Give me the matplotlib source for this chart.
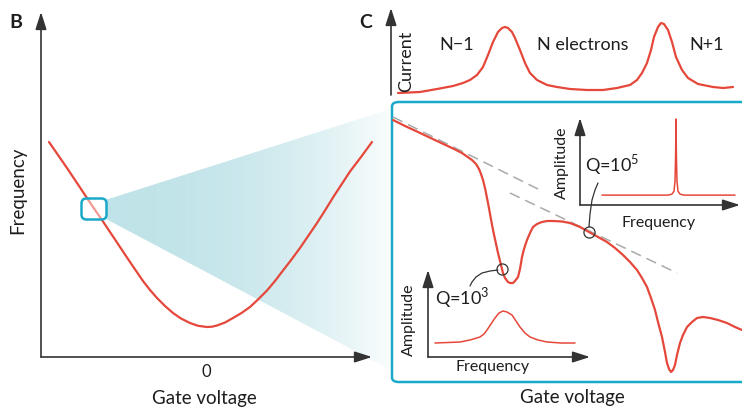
import matplotlib.pyplot as plt
from matplotlib.patches import FancyBboxPatch

plt.rcParams['font.family'] = ['Lato', 'DejaVu Sans']
plt.rcParams['mathtext.fontset'] = 'custom'
plt.rcParams['mathtext.rm'] = 'Lato'

RED = '#e5483b'
CYAN = '#1ba9c9'
DARK = '#333333'
TXT = '#1e1e1e'
W, H = 742, 409

# panel B: frequency vs gate voltage (arbitrary units)
b_volt = [-157, -139, -123, -113, -103, -89, -76, -63, -56, -49, -41, -33, -25, -16, -8,
          1, 6, 11, 19, 27, 35.5, 44, 52, 61, 69, 77, 85.5, 94, 102.5, 111, 119, 127,
          135.5, 144, 155, 166]
b_freq = [215, 189, 165, 150, 135.5, 114.5, 95, 76, 67, 59, 51, 44, 38.5, 34, 31.2,
          30, 30.3, 31.5, 34.5, 39, 44, 50, 57.5, 66.5, 76, 86.5, 97.5, 109, 121.5, 134, 146.5, 159.5,
          172.5, 185.5, 200, 215]

# panel C top: current vs gate voltage
cur_volt = [7, 29, 46, 62, 72, 79, 86, 92, 97, 102, 107, 111, 114, 117, 121, 124, 129,
            134, 139, 146, 156, 166, 179, 196, 212, 226, 239, 246, 251, 256, 260, 263,
            267, 270, 273, 277, 281, 285, 291, 297, 307, 322, 332, 342]
cur_val = [2, 3, 6, 9, 12, 15, 20, 28, 40, 53, 63, 67, 68, 67, 63, 57, 45,
           32, 22, 15, 10, 8, 6, 5, 5, 7, 10, 15, 22, 32, 45, 58,
           68, 72, 71, 65, 53, 38, 25, 17, 11, 8, 7, 8]
cur_labels = ['N\u22121', 'N electrons', 'N+1']
cur_label_x = [66, 192, 316]

# panel C main: frequency vs gate voltage
c_volt = [1, 13, 26, 45, 60, 70, 80, 84, 87, 89, 91, 93, 96, 101, 106, 109, 111, 113,
          116, 118, 121, 123, 126, 128, 130, 132, 135, 138, 141, 145, 150, 155, 161,
          170, 178, 188, 197, 206, 215, 223, 231, 238, 245, 250, 255, 259, 263, 266,
          270, 273, 275, 277, 279, 281, 283, 285, 288, 291, 295, 300, 305, 311, 318,
          326, 335, 343, 350]
c_freq = [262, 256, 250, 241, 234, 229, 222, 218, 213, 208, 202, 194, 179, 152, 129, 117,
          109, 104, 100, 99, 99, 101, 105, 113, 125, 133, 142, 149, 155, 158, 160, 161,
          161, 160.5, 159, 155, 150, 145, 140, 134, 127, 120, 112, 104, 95, 84, 72, 60,
          45, 30, 19, 13, 10, 12, 17, 27, 39, 47, 55, 60, 64, 65, 64,
          62, 59, 55, 52]
dash1_volt, dash1_freq = [1, 148], [265, 192]
dash2_volt, dash2_freq = [118, 285], [189, 109]
mark_volt, mark_freq = [110, 197], [113, 150]
lead1_volt = [106, 98, 90, 84, 80, 78]
lead1_freq = [112, 111, 109, 105, 100, 96]
lead2_volt = [197, 198, 200, 203, 206]
lead2_freq = [155, 168, 182, 192, 199]

# insets: amplitude vs frequency
hiq_f = [22, 88, 92, 94, 95, 95.6, 96, 96.4, 97, 98, 100, 104, 155]
hiq_a = [10, 10, 11, 14, 24, 50, 87, 50, 24, 14, 11, 10, 10]
loq_f = [7, 20, 32, 42, 52, 56, 59, 63, 67, 71, 75, 79, 84, 88, 92, 97, 102, 110,
         119, 133, 147]
loq_a = [14, 14.5, 15, 17, 20, 23, 27, 33, 39, 44, 46, 45, 42, 36, 30, 24, 20, 17,
         15, 14, 14]


def box(l, t, r, b):
    return [l / W, 1 - b / H, (r - l) / W, (b - t) / H]


def bare(ax):
    for s in ax.spines.values():
        s.set_visible(False)
    ax.set_xticks([])
    ax.set_yticks([])
    ax.patch.set_visible(False)


def arrow(ax, x0, y0, x1, y1, lw=1.2):
    ax.annotate('', xy=(x1, y1), xytext=(x0, y0), xycoords='axes fraction',
                textcoords='axes fraction', annotation_clip=False,
                arrowprops=dict(arrowstyle='-|>,head_length=0.75,head_width=0.24',
                                color=DARK, lw=lw, shrinkA=0, shrinkB=0,
                                mutation_scale=14))


def line(ax, x, y, **kw):
    ax.plot(x, y, solid_joinstyle='round', solid_capstyle='round', **kw)


fig = plt.figure(figsize=(W / 100, H / 100), dpi=100)

# ---- panel B
axB = fig.add_axes(box(41, 12, 372, 357))
bare(axB)
axB.set_xlim(-165, 166)
axB.set_ylim(0, 345)

# zoom cone with gradient
n = 90
x_left, x_right = -99, 186
c0 = (0.75, 0.89, 0.91)
for i in range(n):
    t0 = i / n
    t1 = (i + 1) / n
    xa = x_left + (x_right - x_left) * t0
    xb = x_left + (x_right - x_left) * t1
    top_a = 157 + (248 - 157) * t0
    top_b = 157 + (248 - 157) * t1
    bot_a = 138 + (-13 - 138) * t0
    bot_b = 138 + (-13 - 138) * t1
    k = 0.93 * t0 ** 2.2
    col = tuple(c * (1 - k) + 1.0 * k for c in c0)
    axB.fill([xa, xb, xb, xa], [bot_a, bot_b, top_b, top_a], color=col,
             lw=0.6, ec=col, clip_on=False, zorder=1)

line(axB, b_volt, b_freq, color=RED, lw=1.6, zorder=3, clip_on=False)
axB.add_patch(FancyBboxPatch((-124.5, 137.5), 25, 21, boxstyle='round,pad=0,rounding_size=5',
                             fc=(1, 1, 1, 0.45), ec=CYAN, lw=1.8, zorder=4, clip_on=False))
arrow(axB, 0, 0, 0, 1)
arrow(axB, 0, 0, 1, 0)
axB.text(0, -0.043, '0', transform=axB.get_xaxis_transform(), ha='center', va='center',
         fontsize=12, color=TXT)
axB.text(0.495, -0.119, 'Gate voltage', transform=axB.transAxes, ha='center', va='center',
         fontsize=13.5, color=TXT)
axB.text(-0.069, 0.484, 'Frequency', transform=axB.transAxes, ha='center', va='center',
         rotation=90, fontsize=13.5, color=TXT)

fig.text(16 / W, 1 - 22 / H, 'B', fontsize=14, fontweight='bold', ha='center', va='center',
         color=TXT)
fig.text(366 / W, 1 - 22 / H, 'C', fontsize=14, fontweight='bold', ha='center', va='center',
         color=TXT)

# ---- panel C top: current
axI = fig.add_axes(box(391, 8, 742, 95))
bare(axI)
axI.set_xlim(0, 351)
axI.set_ylim(0, 87)
line(axI, cur_volt, cur_val, color=RED, lw=1.6)
arrow(axI, 0, 0, 0, 1)
axI.text(0.043, 0.39, 'Current', transform=axI.transAxes, rotation=90,
         ha='center', va='center', fontsize=13, color=TXT)
for lab, x in zip(cur_labels, cur_label_x):
    axI.text(x, 50, lab, ha='center', va='center', fontsize=13, color=TXT)

# ---- panel C main
axC = fig.add_axes(box(392, 102, 742, 382))
bare(axC)
axC.set_xlim(0, 350)
axC.set_ylim(0, 280)
axC.add_patch(FancyBboxPatch((0, 0), 1.1, 1, boxstyle='round,pad=0,rounding_size=0.02',
                             transform=axC.transAxes, fc='white', ec=CYAN, lw=1.8,
                             clip_on=False, zorder=0, mutation_aspect=0.8))
axC.plot(dash1_volt, dash1_freq, color='#aaaaaa', lw=1.1, ls=(0, (7, 4)), zorder=2)
axC.plot(dash2_volt, dash2_freq, color='#aaaaaa', lw=1.1, ls=(0, (7, 4)), zorder=2)
line(axC, c_volt, c_freq, color=RED, lw=1.6, zorder=3)
line(axC, lead1_volt, lead1_freq, color=DARK, lw=0.9, zorder=4)
line(axC, lead2_volt, lead2_freq, color=DARK, lw=0.9, zorder=4)
axC.plot(mark_volt, mark_freq, 'o', ms=8, mfc='none', mec=DARK, mew=0.9, zorder=5)
axC.text(193, 217, 'Q=10$^{5}$', fontsize=13, ha='left', va='center', color=TXT)
axC.text(43, 84, 'Q=10$^{3}$', fontsize=13, ha='left', va='center', color=TXT)
axC.text(0.514, -0.057, 'Gate voltage', transform=axC.transAxes, ha='center', va='center',
         fontsize=13.5, color=TXT)

# ---- inset high Q
ax1 = fig.add_axes(box(580, 118, 740, 205))
bare(ax1)
ax1.set_xlim(0, 160)
ax1.set_ylim(0, 88)
line(ax1, hiq_f, hiq_a, color=RED, lw=1.1)
arrow(ax1, 0, 0, 0, 1)
arrow(ax1, 0, 0, 1, 0)
ax1.text(-0.11, 0.48, 'Amplitude', transform=ax1.transAxes, rotation=90,
         ha='center', va='center', fontsize=11.5, color=TXT)
ax1.text(0.49, -0.21, 'Frequency', transform=ax1.transAxes,
         ha='center', va='center', fontsize=11.5, color=TXT)

# ---- inset low Q
ax2 = fig.add_axes(box(428, 270, 590, 357))
bare(ax2)
ax2.set_xlim(0, 162)
ax2.set_ylim(0, 87)
line(ax2, loq_f, loq_a, color=RED, lw=1.1)
arrow(ax2, 0, 0, 0, 1)
arrow(ax2, 0, 0, 1, 0)
ax2.text(-0.12, 0.43, 'Amplitude', transform=ax2.transAxes, rotation=90,
         ha='center', va='center', fontsize=11.5, color=TXT)
ax2.text(0.40, -0.12, 'Frequency', transform=ax2.transAxes,
         ha='center', va='center', fontsize=11.5, color=TXT)

fig.savefig('out.png', dpi=100)
